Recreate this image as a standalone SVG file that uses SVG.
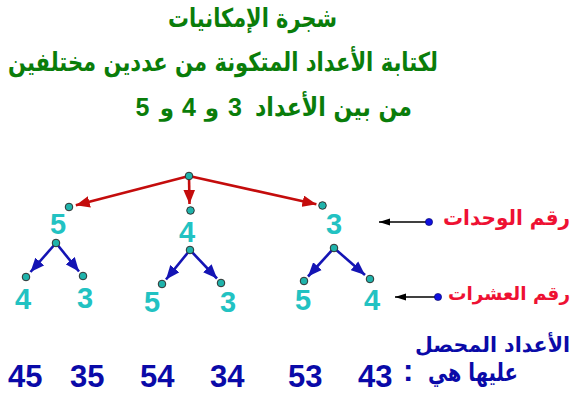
<svg xmlns="http://www.w3.org/2000/svg" width="578" height="396" viewBox="0 0 578 396">
<defs>
<style>
.t{font-family:"DejaVu Sans","Liberation Sans",sans-serif;font-weight:bold}
.g{fill:#0a7d0a}
.r{fill:#ee1133}
.b{fill:#0a0aa8}
.d{font-family:"Liberation Sans",Arial,sans-serif;font-weight:bold;fill:#22c2c2;font-size:29px;text-anchor:middle}
.n{font-family:"Liberation Sans",Arial,sans-serif;font-weight:bold;fill:#0a0aa8;font-size:31px}
.dot{fill:#1fb3ab;stroke:#303030;stroke-width:1}
.ra{stroke:#c40c0c;stroke-width:2.6;fill:none;marker-end:url(#mr)}
.ba{stroke:#1414b4;stroke-width:2.6;fill:none;marker-end:url(#mb)}
.ka{stroke:#000;stroke-width:1.3;fill:none;marker-end:url(#mk)}
</style>
<marker id="mr" markerUnits="userSpaceOnUse" markerWidth="14" markerHeight="12" refX="12" refY="5" orient="auto" viewBox="0 0 12 10"><path d="M0,0 L12,5 L0,10 z" fill="#c40c0c"/></marker>
<marker id="mb" markerUnits="userSpaceOnUse" markerWidth="14" markerHeight="12" refX="12" refY="5" orient="auto" viewBox="0 0 12 10"><path d="M0,0 L12,5 L0,10 z" fill="#1414b4"/></marker>
<marker id="mk" markerUnits="userSpaceOnUse" markerWidth="11" markerHeight="8" refX="11" refY="3.5" orient="auto" viewBox="0 0 11 7"><path d="M0,0 L11,3.5 L0,7 z" fill="#000"/></marker>
</defs>
<rect width="578" height="396" fill="#fff"/>

<g id="title">
<text class="t g" x="252.5" y="27" font-size="26" text-anchor="middle" textLength="169" lengthAdjust="spacingAndGlyphs">شجرة الإمكانيات</text>
<text class="t g" x="223" y="71" font-size="26" text-anchor="middle" textLength="430" lengthAdjust="spacingAndGlyphs">لكتابة الأعداد المتكونة من عددين مختلفين</text>
<text class="t g" x="412" y="116" font-size="26" text-anchor="end" textLength="157" lengthAdjust="spacingAndGlyphs">من بين الأعداد</text>
<text class="g" font-family="Liberation Sans, Arial, sans-serif" font-weight="bold" font-size="25" x="235" y="116" text-anchor="middle">3</text>
<text class="t g" x="212" y="116" font-size="23" text-anchor="middle">و</text>
<text class="g" font-family="Liberation Sans, Arial, sans-serif" font-weight="bold" font-size="25" x="189" y="116" text-anchor="middle">4</text>
<text class="t g" x="167" y="116" font-size="23" text-anchor="middle">و</text>
<text class="g" font-family="Liberation Sans, Arial, sans-serif" font-weight="bold" font-size="25" x="142.5" y="116" text-anchor="middle">5</text>
</g>

<g id="connectors">
<line class="ra" x1="189" y1="176" x2="75.8" y2="205.3"/>
<line class="ra" x1="189" y1="176" x2="189.5" y2="204"/>
<line class="ra" x1="189" y1="176" x2="316.4" y2="204.3"/>
<line class="ba" x1="56" y1="243" x2="30.5" y2="272"/>
<line class="ba" x1="56" y1="243" x2="79" y2="271.5"/>
<line class="ba" x1="190" y1="250" x2="166" y2="279.5"/>
<line class="ba" x1="190" y1="250" x2="217" y2="278.5"/>
<line class="ba" x1="334" y1="248" x2="308" y2="276.5"/>
<line class="ba" x1="334" y1="248" x2="365" y2="275"/>
<line class="ka" x1="429" y1="222" x2="379" y2="222"/>
<line class="ka" x1="438" y1="297" x2="395" y2="297"/>
</g>

<g id="root"><circle class="dot" cx="189" cy="176" r="3.8"/></g>

<g id="u5"><circle class="dot" cx="69" cy="207" r="3.8"/><text class="d" x="58" y="234">5</text><circle class="dot" cx="56" cy="243" r="3.8"/></g>
<g id="u4"><circle class="dot" cx="190.5" cy="210.5" r="3.8"/><text class="d" x="187" y="242">4</text><circle class="dot" cx="190" cy="250" r="3.8"/></g>
<g id="u3"><circle class="dot" cx="322.5" cy="205.5" r="3.8"/><text class="d" x="334" y="234">3</text><circle class="dot" cx="334" cy="248" r="3.8"/></g>

<g id="t54"><circle class="dot" cx="26" cy="277" r="3.8"/><text class="d" x="23" y="309">4</text></g>
<g id="t53"><circle class="dot" cx="83" cy="276" r="3.8"/><text class="d" x="85" y="308">3</text></g>
<g id="t45"><circle class="dot" cx="162" cy="284" r="3.8"/><text class="d" x="152" y="312">5</text></g>
<g id="t43"><circle class="dot" cx="221" cy="283" r="3.8"/><text class="d" x="228" y="312">3</text></g>
<g id="t35"><circle class="dot" cx="304" cy="281" r="3.8"/><text class="d" x="303" y="310">5</text></g>
<g id="t34"><circle class="dot" cx="370" cy="279" r="3.8"/><text class="d" x="372" y="310">4</text></g>

<g id="label-units">
<circle cx="429" cy="222" r="3.6" fill="#1010e0" stroke="#000060" stroke-width="0.6"/>
<text class="t r" x="570" y="225" font-size="21" text-anchor="end" textLength="127" lengthAdjust="spacingAndGlyphs">رقم الوحدات</text>
</g>
<g id="label-tens">
<circle cx="438" cy="297" r="3.6" fill="#1010e0" stroke="#000060" stroke-width="0.6"/>
<text class="t r" x="570" y="300" font-size="19" text-anchor="end" textLength="122" lengthAdjust="spacingAndGlyphs">رقم العشرات</text>
</g>

<g id="result">
<text class="t b" x="570" y="352" font-size="21" text-anchor="end" textLength="155" lengthAdjust="spacingAndGlyphs">الأعداد المحصل</text>
<text class="t b" x="518" y="381" font-size="25" text-anchor="end" textLength="90" lengthAdjust="spacingAndGlyphs">عليها هي</text>
<text class="n" x="403" y="381" font-size="26">:</text>
<text class="n" x="358" y="387">43</text>
<text class="n" x="288" y="387">53</text>
<text class="n" x="210" y="387">34</text>
<text class="n" x="140" y="387">54</text>
<text class="n" x="70" y="387">35</text>
<text class="n" x="8" y="387">45</text>
</g>
</svg>
